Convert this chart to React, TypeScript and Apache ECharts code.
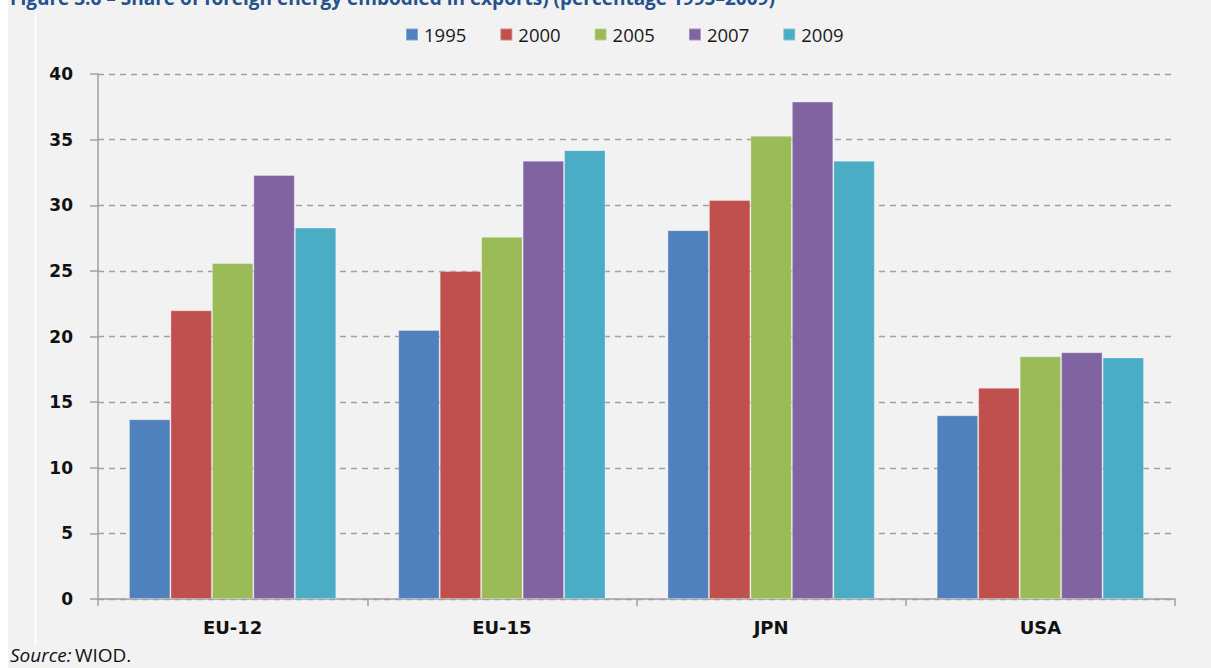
import React, { useEffect, useRef } from "react";
import * as echarts from "echarts";

const categories = ["EU-12", "EU-15", "JPN", "USA"];
const seriesNames = ["1995", "2000", "2005", "2007", "2009"];
const values1995 = [13.7, 20.5, 28.1, 14.0];
const values2000 = [22.0, 25.0, 30.4, 16.1];
const values2005 = [25.6, 27.6, 35.3, 18.5];
const values2007 = [32.3, 33.4, 37.9, 18.8];
const values2009 = [28.3, 34.2, 33.4, 18.4];
const colors = ["#4f81bd", "#c0504d", "#9bbb59", "#8064a2", "#4bacc6"];
const titleText = "Figure 3.6 \u2013 Share of foreign energy embodied in exports) (percentage 1995\u20132009)";

export default function App() {
  const ref = useRef<HTMLDivElement>(null);
  useEffect(() => {
    document.body.style.margin = "0";
    const chart = echarts.init(ref.current!, null, { renderer: "svg" });
    const data = [values1995, values2000, values2005, values2007, values2009];
    chart.setOption({
      animation: false,
      backgroundColor: "#ffffff",
      color: colors,
      graphic: [
        { type: "rect", z: -10, shape: { x: 8, y: 0, width: 1203, height: 668 }, style: { fill: "#f2f2f2" } },
        { type: "line", z: -9, shape: { x1: 35.5, y1: 12, x2: 35.5, y2: 645 }, style: { stroke: "#ffffff", lineWidth: 1.5 } },
        {
          type: "text", left: 10, top: -12,
          style: { text: titleText, fill: "#24528c", font: "bold 19px 'Open Sans'" },
        },
        {
          type: "text", left: 10, top: 645,
          style: {
            text: "{i|Source:} {r|WIOD.}",
            rich: {
              i: { fontStyle: "italic", fontSize: 19, fontFamily: "'Open Sans'", fill: "#111" },
              r: { fontSize: 19, fontFamily: "'Open Sans'", fill: "#111" },
            },
          },
        },
      ],
      legend: {
        top: 20,
        left: 400,
        itemWidth: 12,
        itemHeight: 12,
        itemGap: 33,
        icon: "rect",
        textStyle: { fontFamily: "'Open Sans'", fontSize: 18.5, color: "#1a1a1a", padding: [0, 0, 0, 1] },
        data: seriesNames,
      },
      grid: { left: 98, right: 36, top: 74, bottom: 69, containLabel: false },
      xAxis: {
        type: "category",
        data: categories,
        axisLine: { lineStyle: { color: "#a0a0a0", width: 1.5 } },
        axisTick: { show: true, length: 7, interval: 0, lineStyle: { color: "#a0a0a0", width: 1.5 } },
        axisLabel: { margin: 19, fontFamily: "'DejaVu Sans'", fontWeight: "bold", fontSize: 18, color: "#111" },
      },
      yAxis: {
        type: "value",
        min: 0,
        max: 40,
        interval: 5,
        axisLine: { show: true, lineStyle: { color: "#a0a0a0", width: 1.5 } },
        axisTick: { show: true, length: 8, lineStyle: { color: "#a0a0a0", width: 1.5 } },
        axisLabel: { margin: 25, fontFamily: "'DejaVu Sans'", fontWeight: "bold", fontSize: 17, color: "#111" },
        splitLine: { lineStyle: { color: "#a0a0a0", type: [6, 5], width: 1.3 } },
      },
      series: seriesNames.map((name, i) => ({
        name,
        type: "bar",
        data: data[i],
        barGap: "0%",
        barCategoryGap: "23%",
        itemStyle: { color: colors[i], borderColor: "rgba(255,255,255,0.3)", borderWidth: 1 },
      })),
    });
    return () => chart.dispose();
  }, []);
  return <div ref={ref} style={{ width: 1211, height: 668 }} />;
}
